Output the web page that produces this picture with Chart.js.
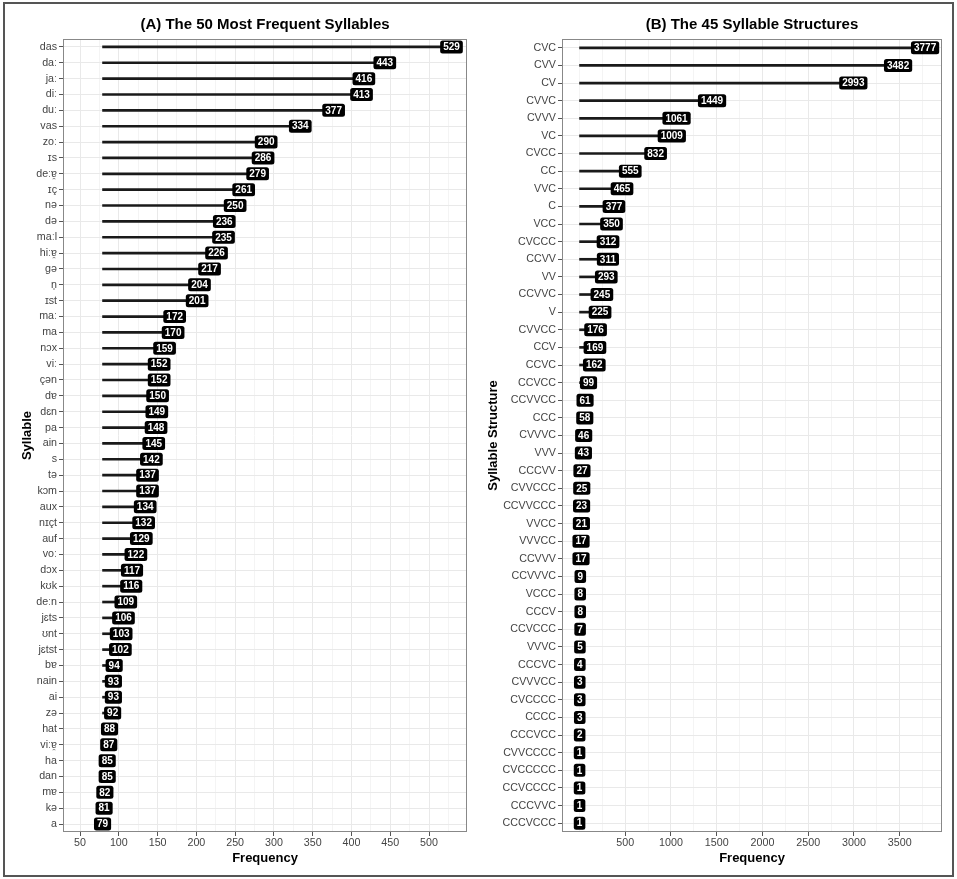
<!DOCTYPE html>
<html>
<head>
<meta charset="utf-8">
<script src="https://cdn.jsdelivr.net/npm/chart.js@4.4.1/dist/chart.umd.min.js"></script>
<style>
  html, body { margin: 0; padding: 0; background: #fff; }
  #page { position: relative; width: 957px; height: 879px; overflow: hidden; }
  #frame { position: absolute; left: 3px; top: 2px; width: 951px; height: 875px; box-sizing: border-box; border: 2px solid #555; }
  .panel { position: absolute; top: 0; }
  #boxA { left: 0; }
  #boxB { left: 480px; }
</style>
</head>
<body>
<div id="page">
  <div id="frame"></div>
  <div class="panel" id="boxA"><canvas id="chartA" width="480" height="879"></canvas></div>
  <div class="panel" id="boxB"><canvas id="chartB" width="477" height="879"></canvas></div>
</div>
<script>
// (A) the 50 most frequent syllables
const syllables = ['das', 'daː', 'jaː', 'diː', 'duː', 'vas', 'zoː', 'ɪs', 'deːɐ̯', 'ɪç',
  'nə', 'də', 'maːl', 'hiːɐ̯', 'gə', 'n̩', 'ɪst', 'maː', 'ma', 'nɔx',
  'viː', 'çən', 'dɐ', 'dɛn', 'pa', 'ain', 's', 'tə', 'kɔm', 'aux',
  'nɪçt', 'auf', 'voː', 'dɔx', 'kʊk', 'deːn', 'jɛts', 'ʊnt', 'jɛtst', 'bɐ',
  'nain', 'ai', 'zə', 'hat', 'viːɐ̯', 'ha', 'dan', 'mɐ', 'kə', 'a'];
const syllableFreq = [529, 443, 416, 413, 377, 334, 290, 286, 279, 261,
  250, 236, 235, 226, 217, 204, 201, 172, 170, 159,
  152, 152, 150, 149, 148, 145, 142, 137, 137, 134,
  132, 129, 122, 117, 116, 109, 106, 103, 102, 94,
  93, 93, 92, 88, 87, 85, 85, 82, 81, 79];
const syllableTicks = [50, 100, 150, 200, 250, 300, 350, 400, 450, 500];

// (B) the 45 syllable structures
const structures = ['CVC', 'CVV', 'CV', 'CVVC', 'CVVV', 'VC', 'CVCC', 'CC', 'VVC', 'C',
  'VCC', 'CVCCC', 'CCVV', 'VV', 'CCVVC', 'V', 'CVVCC', 'CCV', 'CCVC', 'CCVCC',
  'CCVVCC', 'CCC', 'CVVVC', 'VVV', 'CCCVV', 'CVVCCC', 'CCVVCCC', 'VVCC', 'VVVCC', 'CCVVV',
  'CCVVVC', 'VCCC', 'CCCV', 'CCVCCC', 'VVVC', 'CCCVC', 'CVVVCC', 'CVCCCC', 'CCCC', 'CCCVCC',
  'CVVCCCC', 'CVCCCCC', 'CCVCCCC', 'CCCVVC', 'CCCVCCC'];
const structureFreq = [3777, 3482, 2993, 1449, 1061, 1009, 832, 555, 465, 377,
  350, 312, 311, 293, 245, 225, 176, 169, 162, 99,
  61, 58, 46, 43, 27, 25, 23, 21, 17, 17,
  9, 8, 8, 7, 5, 4, 3, 3, 3, 2,
  1, 1, 1, 1, 1];
const structureTicks = [500, 1000, 1500, 2000, 2500, 3000, 3500];

const FONT = '"Liberation Sans", Arial, Helvetica, sans-serif';
const TICK = '#444';
Chart.defaults.font.family = FONT;

// grey border round the plotting panel
const panelFrame = {
  id: 'panelFrame',
  afterDraw(chart) {
    const a = chart.chartArea, ctx = chart.ctx;
    ctx.save();
    ctx.strokeStyle = '#888';
    ctx.lineWidth = 1;
    ctx.strokeRect(Math.round(a.left) + 0.5, Math.round(a.top) + 0.5,
      Math.round(a.right - a.left) - 1, Math.round(a.bottom - a.top) - 1);
    ctx.restore();
  }
};

// black rounded value labels at the head of each lollipop
const valueBoxes = {
  id: 'valueBoxes',
  afterDatasetsDraw(chart) {
    const ctx = chart.ctx, x = chart.scales.x, y = chart.scales.y;
    const data = chart.data.datasets[0].data;
    ctx.save();
    ctx.font = 'bold 10px ' + FONT;
    ctx.textAlign = 'center';
    ctx.textBaseline = 'middle';
    data.forEach((d, i) => {
      const v = d[1];
      const px = x.getPixelForValue(v), py = y.getPixelForValue(i);
      const t = String(v);
      const w = ctx.measureText(t).width + 6, h = 13;
      ctx.fillStyle = '#000';
      ctx.beginPath();
      ctx.roundRect(px - w / 2, py - h / 2, w, h, 2.5);
      ctx.fill();
      ctx.fillStyle = '#fff';
      ctx.fillText(t, px, py + 0.5);
    });
    ctx.restore();
  }
};

function lollipop(id, cats, vals, majors, cfg) {
  const lo = Math.min(...vals);
  const step = majors[1] - majors[0];
  const gridVals = [];
  for (let v = majors[0] - step; v <= majors[majors.length - 1] + step; v += step / 2) {
    if (v >= cfg.min && v <= cfg.max) gridVals.push(v);
  }
  const isMajor = v => majors.includes(v);

  return new Chart(document.getElementById(id), {
    type: 'bar',
    data: {
      labels: cats,
      datasets: [{
        data: vals.map(v => [lo, v]),
        backgroundColor: '#1a1a1a',
        barThickness: 2,
        borderWidth: 0
      }]
    },
    options: {
      indexAxis: 'y',
      responsive: false,
      animation: false,
      layout: { padding: { top: 0, left: 0, right: cfg.padRight, bottom: 0 } },
      plugins: {
        legend: { display: false },
        tooltip: { enabled: false },
        title: {
          display: true,
          text: cfg.title,
          fullSize: false,
          color: '#000',
          font: { family: FONT, size: 15, weight: 'bold' },
          padding: { top: 16, bottom: 5 }
        }
      },
      scales: {
        x: {
          type: 'linear',
          min: cfg.min,
          max: cfg.max,
          afterBuildTicks: s => { s.ticks = gridVals.map(v => ({ value: v })); },
          afterFit: s => { s.height = 47; },
          ticks: {
            callback: v => isMajor(v) ? String(v) : '',
            color: TICK,
            font: { family: FONT, size: 10.7 },
            padding: 1,
            maxRotation: 0,
            autoSkip: false
          },
          grid: {
            color: c => isMajor(c.tick.value) ? '#e9e9e9' : '#f4f4f4',
            tickColor: c => isMajor(c.tick.value) ? '#555' : 'rgba(0,0,0,0)',
            tickLength: 4,
            lineWidth: 1
          },
          border: { display: false },
          title: {
            display: true,
            text: 'Frequency',
            color: '#000',
            font: { family: FONT, size: 13, weight: 'bold' },
            padding: { top: 0, bottom: 13 }
          }
        },
        y: {
          type: 'category',
          offset: true,
          afterFit: s => { s.width = cfg.axisWidth; },
          ticks: {
            color: TICK,
            font: { family: FONT, size: 10.7 },
            padding: 2,
            autoSkip: false
          },
          grid: { offset: false, color: '#e9e9e9', tickColor: '#555', tickLength: 4, lineWidth: 1 },
          border: { display: false },
          title: {
            display: true,
            text: cfg.yTitle,
            color: '#000',
            font: { family: FONT, size: 13, weight: 'bold' },
            padding: { top: cfg.yTitlePad, bottom: 0 }
          }
        }
      }
    },
    plugins: [panelFrame, valueBoxes]
  });
}

lollipop('chartA', syllables, syllableFreq, syllableTicks, {
  title: '(A) The 50 Most Frequent Syllables',
  yTitle: 'Syllable',
  min: 28, max: 549,
  axisWidth: 63, padRight: 13, yTitlePad: 20
});

lollipop('chartB', structures, structureFreq, structureTicks, {
  title: '(B) The 45 Syllable Structures',
  yTitle: 'Syllable Structure',
  min: -191, max: 3962,
  axisWidth: 82, padRight: 15, yTitlePad: 6
});
</script>
</body>
</html>
